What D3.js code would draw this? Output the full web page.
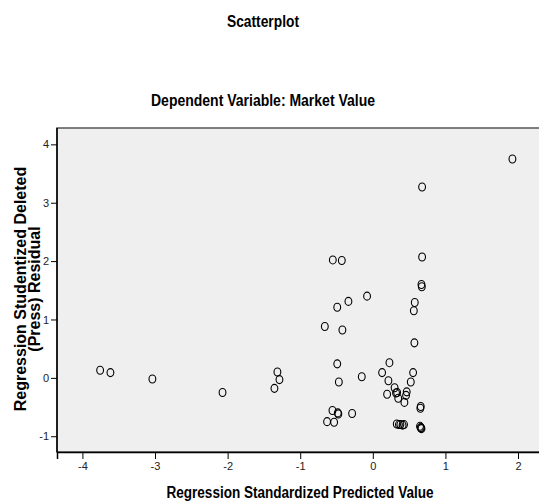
<!DOCTYPE html>
<html>
<head>
<meta charset="utf-8">
<script src="https://cdn.jsdelivr.net/npm/d3@7"></script>
<style>
  body { margin: 0; background: #fff; }
  text { font-family: "Liberation Sans", Arial, sans-serif; }
</style>
</head>
<body>
<div id="chart"></div>
<script>
// predicted values (x) and studentized deleted residuals (y)
var predicted = [-3.756, -3.614, -3.036, -2.07, -1.314, -1.286, -1.355,
    -0.661, -0.419, -0.49, -0.336, -0.079, -0.551, -0.427, -0.49, -0.468, -0.152,
    0.128, 0.229, 0.215, 0.30, 0.32, 0.197, 0.35, 0.335, 0.467, 0.458, 0.435,
    0.523, 0.555, 0.573, 0.565, 0.578, 0.67, 0.675, 0.679, 0.679, 1.923,
    0.66, 0.655, -0.556, -0.482, -0.475, -0.285, -0.63, -0.533,
    0.33, 0.36, 0.38, 0.41, 0.43, 0.65, 0.66, 0.67, 0.665];
var residual = [0.13, 0.09, -0.02, -0.25, 0.10, -0.03, -0.18,
    0.88, 0.82, 1.21, 1.31, 1.40, 2.02, 2.01, 0.24, -0.07, 0.02,
    0.09, 0.26, -0.05, -0.17, -0.26, -0.28, -0.35, -0.25, -0.24, -0.30, -0.42,
    -0.07, 0.09, 0.60, 1.15, 1.29, 1.60, 1.56, 2.07, 3.27, 3.75,
    -0.49, -0.52, -0.56, -0.60, -0.62, -0.61, -0.75, -0.76,
    -0.79, -0.80, -0.80, -0.81, -0.80, -0.83, -0.85, -0.87, -0.86];
var xTicks = [-4, -3, -2, -1, 0, 1, 2];
var yTicks = [-1, 0, 1, 2, 3, 4];

var width = 539, height = 503;
var plot = { left: 57, top: 128, right: 541, bottom: 452 };

var svg = d3.select("#chart").append("svg")
    .attr("width", width)
    .attr("height", height);

var x = d3.scaleLinear().domain([-4.35, 2.3]).range([plot.left, plot.left + 72.6 * 6.65]);
var y = d3.scaleLinear().domain([-1.27, 4.28]).range([plot.bottom, plot.top]);

// plot background
svg.append("rect")
    .attr("x", plot.left)
    .attr("y", plot.top)
    .attr("width", plot.right - plot.left)
    .attr("height", plot.bottom - plot.top)
    .attr("fill", "#efefef")
    .attr("stroke", "#555")
    .attr("stroke-width", 1.5);

var xAxis = svg.append("g")
    .attr("transform", "translate(0," + plot.bottom + ")")
    .call(d3.axisBottom(x).tickValues(xTicks).tickSize(7).tickPadding(3).tickFormat(String));
var yAxis = svg.append("g")
    .attr("transform", "translate(" + plot.left + ",0)")
    .call(d3.axisLeft(y).tickValues(yTicks).tickSize(6).tickPadding(2).tickFormat(String));

[xAxis, yAxis].forEach(function (g) {
    g.select(".domain").attr("stroke", "#000").attr("stroke-width", 1.5);
    g.selectAll(".tick line").attr("stroke", "#000");
    g.selectAll(".tick text")
        .attr("fill", "#222")
        .style("font-size", "11px")
        .style("font-family", "'Liberation Sans', Arial, sans-serif");
});
yAxis.select(".domain").remove();
yAxis.append("line")
    .attr("y1", plot.top).attr("y2", plot.bottom)
    .attr("stroke", "#000").attr("stroke-width", 1.5);

// points
svg.append("g").selectAll("ellipse")
    .data(predicted.map(function (d, i) { return [d, residual[i]]; }))
    .enter().append("ellipse")
    .attr("cx", function (d) { return x(d[0]); })
    .attr("cy", function (d) { return y(d[1]); })
    .attr("rx", 3.4)
    .attr("ry", 4)
    .attr("fill", "none")
    .attr("stroke", "#000")
    .attr("stroke-width", 1.1);

// titles (narrow face squeezed with textLength)
function title(tx, ty, len, str) {
    svg.append("text")
        .attr("x", tx - len / 2).attr("y", ty)
        .attr("textLength", len)
        .attr("lengthAdjust", "spacingAndGlyphs")
        .style("font-size", "16px").style("font-weight", "bold")
        .text(str);
}
title(263, 27, 72, "Scatterplot");
title(263, 106, 224, "Dependent Variable: Market Value");
title(300, 498, 267, "Regression Standardized Predicted Value");

var yLabel = svg.append("text")
    .attr("transform", "translate(26,289) rotate(-90)")
    .attr("text-anchor", "middle")
    .style("font-size", "16px").style("font-weight", "bold");
yLabel.append("tspan").attr("x", 0).attr("y", 0).text("Regression Studentized Deleted");
yLabel.append("tspan").attr("x", 0).attr("y", 14).text("(Press) Residual");
</script>
</body>
</html>
